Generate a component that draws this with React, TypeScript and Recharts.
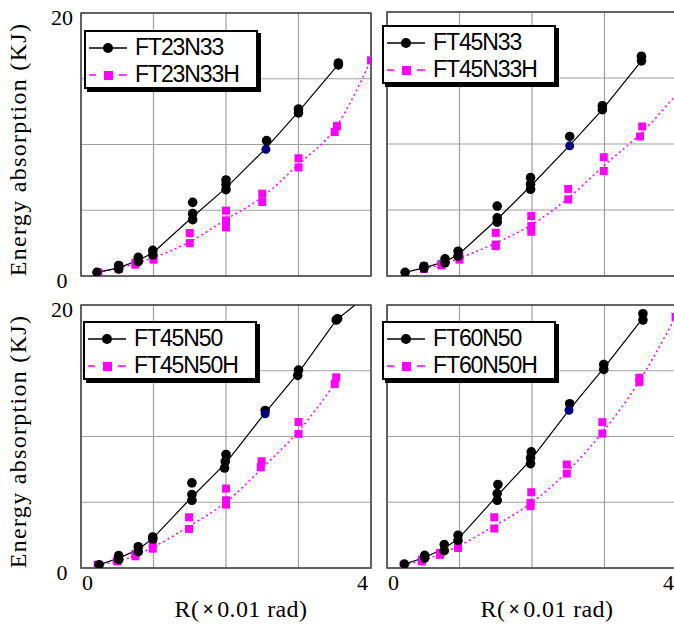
import React from 'react'
import { ComposedChart, Line, Scatter, XAxis, YAxis, CartesianGrid, ReferenceArea, Label } from 'recharts'

// each pair is [R (x0.01 rad), energy (KJ)]
const ft23n33Pts = [[0.22, 0.28], [0.52, 0.8], [0.52, 0.53], [0.79, 1.42], [0.79, 1.1], [0.99, 1.95], [0.99, 1.6], [1.54, 5.6], [1.54, 4.74], [1.54, 4.28], [2.0, 7.3], [2.0, 6.95], [2.0, 6.57], [2.56, 10.3], [3.0, 12.7], [3.0, 12.4], [3.55, 16.2], [3.55, 16.05]]
const ft23n33Mark = [[2.55, 9.63]]
const ft23n33Line = [[0.22, 0.28], [0.52, 0.62], [0.79, 1.2], [0.99, 1.75], [1.53, 4.45], [2.0, 6.7], [2.55, 9.7], [3.0, 12.5], [3.55, 16.1]]
const ft23n33hPts = [[0.24, 0.28], [0.52, 0.74], [0.52, 0.53], [0.75, 1.0], [0.75, 0.86], [1.0, 1.57], [1.0, 1.24], [1.5, 3.27], [1.5, 2.5], [2.0, 4.97], [2.0, 4.23], [2.0, 3.7], [2.5, 6.26], [2.5, 5.63], [3.0, 8.95], [3.0, 8.26], [3.53, 11.4], [3.5, 10.95], [4.0, 16.4]]
const ft23n33hCurve = [[0.24, 0.28], [0.52, 0.6], [0.75, 0.95], [1.0, 1.4], [1.5, 2.6], [2.0, 4.3], [2.5, 6.0], [3.0, 8.5], [3.5, 11.2], [4.0, 16.4]]

const ft45n33Pts = [[0.25, 0.28], [0.51, 0.73], [0.51, 0.6], [0.8, 1.3], [0.8, 1.0], [0.98, 1.88], [0.98, 1.5], [1.52, 5.3], [1.52, 4.4], [1.52, 4.08], [1.98, 7.45], [1.98, 6.95], [1.98, 6.57], [2.52, 10.57], [2.97, 12.9], [2.97, 12.6], [3.51, 16.65], [3.51, 16.3]]
const ft45n33Mark = [[2.52, 9.86]]
const ft45n33Line = [[0.25, 0.28], [0.51, 0.62], [0.8, 1.1], [0.98, 1.6], [1.52, 4.3], [1.98, 6.8], [2.52, 9.9], [2.97, 12.6], [3.51, 16.3]]
const ft45n33hPts = [[0.51, 0.73], [0.51, 0.53], [0.75, 0.9], [0.75, 0.8], [1.0, 1.5], [1.0, 1.24], [1.5, 3.27], [1.5, 2.38], [1.5, 2.26], [1.99, 4.54], [1.99, 3.78], [1.99, 3.35], [2.5, 6.6], [2.5, 5.8], [2.99, 9.0], [2.99, 7.96], [3.52, 11.33], [3.49, 10.57]]
const ft45n33hCurve = [[0.51, 0.6], [0.75, 0.85], [1.0, 1.35], [1.5, 2.5], [2.0, 3.9], [2.5, 5.9], [3.0, 8.4], [3.5, 10.8], [4.0, 13.8]]

const ft45n50Pts = [[0.25, 0.25], [0.52, 0.94], [0.52, 0.63], [0.79, 1.62], [0.79, 1.24], [0.99, 2.36], [0.99, 2.2], [1.53, 6.47], [1.53, 5.58], [1.53, 5.15], [2.0, 8.63], [1.99, 8.1], [1.98, 7.6], [2.54, 11.98], [3.0, 15.05], [2.99, 14.65], [3.52, 18.86], [3.54, 18.96]]
const ft45n50Mark = [[2.54, 11.73]]
const ft45n50Line = [[0.25, 0.25], [0.52, 0.75], [0.79, 1.4], [0.99, 2.25], [1.53, 5.4], [2.0, 8.0], [2.54, 11.8], [3.0, 14.85], [3.52, 18.85], [3.78, 20]]
const ft45n50hPts = [[0.23, 0.25], [0.5, 0.58], [0.5, 0.5], [0.75, 1.07], [0.75, 0.89], [0.99, 1.85], [0.99, 1.47], [1.49, 3.86], [1.49, 2.97], [2.0, 6.04], [2.0, 5.15], [2.0, 4.82], [2.49, 8.12], [2.48, 7.66], [3.0, 11.1], [3.0, 10.2], [3.52, 14.5], [3.5, 14.0]]
const ft45n50hCurve = [[0.23, 0.25], [0.5, 0.5], [0.75, 0.95], [1.0, 1.6], [1.5, 3.2], [2.0, 5.0], [2.5, 7.6], [3.0, 10.4], [3.5, 14.0]]

const ft60n50Pts = [[0.24, 0.3], [0.52, 0.96], [0.52, 0.76], [0.79, 1.78], [0.79, 1.32], [0.98, 2.49], [0.98, 2.1], [1.53, 6.35], [1.52, 5.66], [1.52, 5.15], [1.99, 8.83], [1.98, 8.38], [1.98, 7.94], [2.52, 12.49], [2.99, 15.48], [2.99, 15.1], [3.53, 19.34], [3.53, 18.86]]
const ft60n50Mark = [[2.51, 12.0]]
const ft60n50Line = [[0.24, 0.3], [0.52, 0.8], [0.79, 1.5], [0.98, 2.2], [1.52, 5.5], [1.98, 8.2], [2.51, 12.0], [2.99, 15.2], [3.5, 18.8]]
const ft60n50hPts = [[0.23, 0.25], [0.48, 0.63], [0.48, 0.5], [0.73, 1.14], [0.73, 1.0], [0.98, 1.85], [0.98, 1.52], [1.48, 3.86], [1.48, 3.0], [1.99, 5.76], [1.98, 4.95], [1.98, 4.7], [2.48, 7.87], [2.48, 7.18], [2.97, 11.09], [2.97, 10.23], [3.48, 14.47], [3.48, 14.14], [3.98, 19.1]]
const ft60n50hCurve = [[0.23, 0.25], [0.48, 0.55], [0.73, 1.05], [0.98, 1.65], [1.48, 3.2], [1.98, 4.9], [2.48, 7.3], [2.97, 10.3], [3.48, 14.2], [3.98, 19.1]]

const xTicks = [0, 1, 2, 3, 4]
const yTicks = [0, 5, 10, 15, 20]

const SERIF = '"Liberation Serif", "Times New Roman", serif'
const SANS = '"Liberation Sans", Arial, sans-serif'
const MAGENTA = '#ff00ff'

const toPts = (a: number[][]) => a.map(([x, y]) => ({ x, y }))

function circleShape(r: number, fill: string) {
  return (p: any) => <circle cx={p.cx} cy={p.cy} r={r} fill={fill} />
}
function squareShape(p: any) {
  return <rect x={p.cx - 4} y={p.cy - 4} width={8} height={8} fill={MAGENTA} />
}

interface PanelProps {
  left: number
  top: number
  width: number
  height: number
  marginTop: number
  marginRight: number
  yAxisWidth: number
  xAxisHeight: number
  showY: boolean
  showX: boolean
  pts: number[][]
  mark: number[][]
  line: number[][]
  hPts: number[][]
  hCurve: number[][]
}

function Panel(props: PanelProps) {
  const { showY, showX } = props

  const yTick = (t: any) => {
    const v = t.payload.value
    if (!showY || (v !== 0 && v !== 20)) return <g />
    return (
      <text x={t.x - 19} y={t.y + 4} textAnchor="middle" dominantBaseline="central" fontFamily={SERIF} fontSize={22} fill="#000">
        {v}
      </text>
    )
  }
  const xTick = (t: any) => {
    const v = t.payload.value
    if (!showX || (v !== 0 && v !== 4)) return <g />
    return (
      <text x={v === 0 ? t.x + 1 : t.x - 3} y={t.y + 14} textAnchor={v === 0 ? 'start' : 'end'} dominantBaseline="central" fontFamily={SERIF} fontSize={22} fill="#000">
        {v}
      </text>
    )
  }

  return (
    <div style={{ position: 'absolute', left: props.left, top: props.top }}>
      <ComposedChart width={props.width} height={props.height} margin={{ top: props.marginTop, right: props.marginRight, bottom: 0, left: 0 }} style={{ overflow: 'visible' }}>
        <CartesianGrid stroke="#a0a0a0" strokeWidth={1.2} />
        <XAxis type="number" dataKey="x" domain={[0, 4]} ticks={xTicks} allowDataOverflow height={props.xAxisHeight} axisLine={false} tickLine={false} tickSize={0} tickMargin={0} tick={xTick} interval={0}>
          {showX ? (
            <Label
              content={(lp: any) => {
                const vb = lp.viewBox
                return (
                  <text x={vb.x + vb.width / 2 + 15} y={vb.y + 41} textAnchor="middle" dominantBaseline="central" fontFamily={SERIF} fontSize={24} letterSpacing={0.4} fill="#000">
                    R(<tspan dx={3} fontWeight="bold" fontSize={20}>{'\u00d7'}</tspan><tspan dx={3}>0.01 rad)</tspan>
                  </text>
                )
              }}
            />
          ) : null}
        </XAxis>
        <YAxis type="number" dataKey="y" domain={[0, 20]} ticks={yTicks} allowDataOverflow width={props.yAxisWidth} axisLine={false} tickLine={false} tickSize={0} tickMargin={0} tick={yTick} interval={0}>
          {showY ? (
            <Label
              content={(lp: any) => {
                const vb = lp.viewBox
                const cy = vb.y + vb.height / 2 + 5
                return (
                  <text x={18} y={cy} transform={`rotate(-90 18 ${cy})`} textAnchor="middle" dominantBaseline="central" fontFamily={SERIF} fontSize={24} letterSpacing={1.3} fill="#000">
                    Energy absorption (KJ)
                  </text>
                )
              }}
            />
          ) : null}
        </YAxis>
        <ReferenceArea x1={0} x2={4} y1={0} y2={20} fill="none" stroke="#404040" strokeWidth={1.5} ifOverflow="visible" />
        <Line data={toPts(props.hCurve)} dataKey="y" type="monotone" stroke={MAGENTA} strokeWidth={1.5} strokeDasharray="2 3" dot={false} activeDot={false} isAnimationActive={false} />
        <Line data={toPts(props.line)} dataKey="y" type="linear" stroke="#000" strokeWidth={1.2} dot={false} activeDot={false} isAnimationActive={false} />
        <Scatter data={toPts(props.hPts)} shape={squareShape} isAnimationActive={false} />
        <Scatter data={toPts(props.pts)} shape={circleShape(4.8, '#000')} isAnimationActive={false} />
        <Scatter data={toPts(props.mark)} shape={circleShape(4.5, '#000080')} isAnimationActive={false} />
      </ComposedChart>
    </div>
  )
}

function LegendBox({ left, top, names }: { left: number; top: number; names: string[] }) {
  const row: React.CSSProperties = { display: 'flex', alignItems: 'center', height: 27 }
  return (
    <div style={{ position: 'absolute', left, top, width: 170, height: 53, border: '2px solid #000', boxShadow: '3px 3px 0 #000', background: '#fff', fontFamily: SANS, fontSize: 23, letterSpacing: -1.1, color: '#000', paddingTop: 2, boxSizing: 'content-box' }}>
      <div style={row}>
        <svg width={38} height={14} style={{ marginLeft: 3, marginRight: 8 }}>
          <line x1={0} y1={7} x2={38} y2={7} stroke="#000" strokeWidth={1.5} />
          <circle cx={19} cy={7} r={5} fill="#000" />
        </svg>
        <span>{names[0]}</span>
      </div>
      <div style={row}>
        <svg width={38} height={14} style={{ marginLeft: 3, marginRight: 8 }}>
          <path d="M0 7 H7 M30 7 H38" stroke={MAGENTA} strokeWidth={1.5} />
          <rect x={15} y={3} width={9} height={9} fill={MAGENTA} />
        </svg>
        <span>{names[1]}</span>
      </div>
    </div>
  )
}

export default function App() {
  return (
    <div style={{ position: 'absolute', left: 0, top: 0, width: 674, height: 624, overflow: 'hidden', background: '#fff' }}>
      <Panel left={0} top={0} width={380} height={296} marginTop={13} marginRight={9} yAxisWidth={81} xAxisHeight={20} showY showX={false}
        pts={ft23n33Pts} mark={ft23n33Mark} line={ft23n33Line} hPts={ft23n33hPts} hCurve={ft23n33hCurve} />
      <Panel left={370} top={0} width={310} height={296} marginTop={12} marginRight={3} yAxisWidth={17} xAxisHeight={20} showY={false} showX={false}
        pts={ft45n33Pts} mark={ft45n33Mark} line={ft45n33Line} hPts={ft45n33hPts} hCurve={ft45n33hCurve} />
      <Panel left={0} top={290} width={380} height={334} marginTop={15} marginRight={9} yAxisWidth={81} xAxisHeight={56} showY showX
        pts={ft45n50Pts} mark={ft45n50Mark} line={ft45n50Line} hPts={ft45n50hPts} hCurve={ft45n50hCurve} />
      <Panel left={370} top={290} width={310} height={334} marginTop={15} marginRight={3} yAxisWidth={17} xAxisHeight={56} showY={false} showX
        pts={ft60n50Pts} mark={ft60n50Mark} line={ft60n50Line} hPts={ft60n50hPts} hCurve={ft60n50hCurve} />
      <LegendBox left={84} top={30} names={['FT23N33', 'FT23N33H']} />
      <LegendBox left={382} top={25} names={['FT45N33', 'FT45N33H']} />
      <LegendBox left={83} top={321} names={['FT45N50', 'FT45N50H']} />
      <LegendBox left={382} top={321} names={['FT60N50', 'FT60N50H']} />
    </div>
  )
}
